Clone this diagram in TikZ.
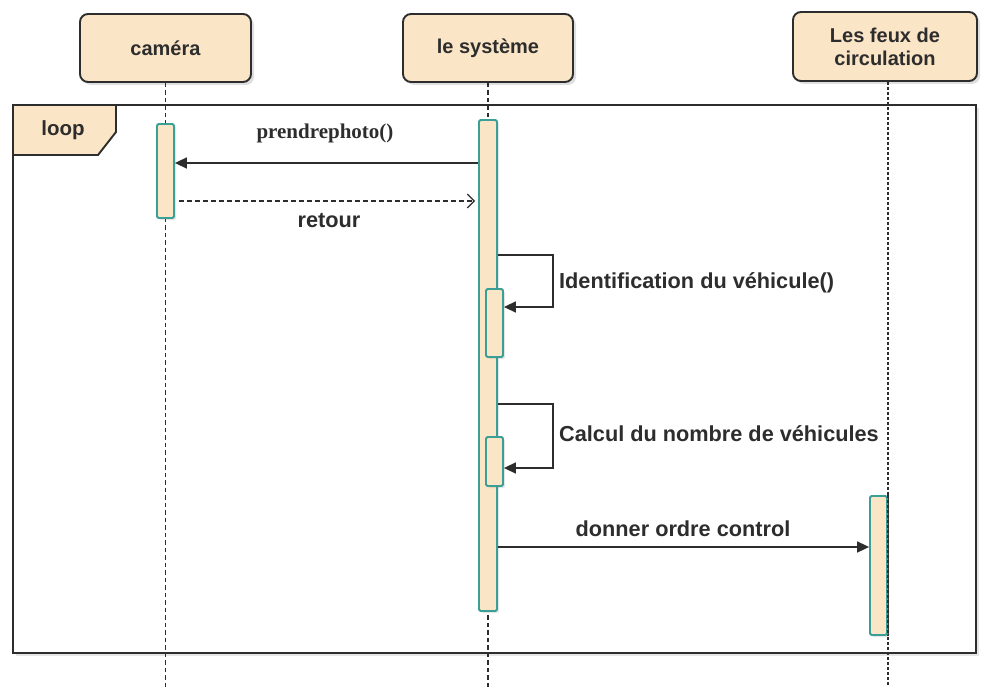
\documentclass[tikz,border=0pt]{standalone}
\usepackage{fontspec}
\setmainfont{Liberation Sans}
\newfontfamily\msgserif{Liberation Serif}
\usetikzlibrary{arrows.meta,shadows}
\definecolor{beige}{RGB}{251,229,199}
\definecolor{actteal}{RGB}{58,160,150}
\definecolor{ink}{RGB}{45,45,45}
\begin{document}
\begin{tikzpicture}[x=1pt,y=-1pt,
  font=\bfseries\fontsize{21.7}{25}\selectfont, text=ink,
  hdr/.style={draw=ink, line width=1.9pt, fill=beige, rounded corners=8pt,
    drop shadow={opacity=0.25,shadow xshift=3pt,shadow yshift=-3pt},
    font=\bfseries\fontsize{20}{23}\selectfont, align=center, inner sep=0pt},
  actbar/.style={draw=actteal, line width=1.8pt, fill=beige, rounded corners=1.5pt,
    inner sep=0pt, drop shadow={opacity=0.2,shadow xshift=2pt,shadow yshift=-2pt}},
  lifeline/.style={draw=ink, line width=1.6pt, dash pattern=on 4.5pt off 3pt},
  msg/.style={draw=ink, line width=1.6pt, -{Triangle[length=12pt,width=11pt]}},
  reply/.style={draw=ink, line width=1.2pt, dash pattern=on 5pt off 3pt,
    -{Straight Barb[length=7pt,width=14pt]}},
  lbl/.style={inner sep=0pt}]
\useasboundingbox (0,0) rectangle (982,687);

% loop combined fragment
\draw[draw=ink, line width=1.9pt, fill=white,
  drop shadow={opacity=0.2,shadow xshift=3pt,shadow yshift=-3pt}]
  (13,105) rectangle (976,653);
\draw[draw=ink, line width=1.9pt, fill=beige]
  (13,105) -- (116,105) -- (116,132) -- (98,155) -- (13,155) -- cycle;
\node[lbl, font=\bfseries\fontsize{20.5}{23}\selectfont] (loop) at (63,130) {loop};

% participants
\node[hdr, minimum width=171pt, minimum height=68pt] (cam) at (165.5,48) {caméra};
\node[hdr, minimum width=170pt, minimum height=68pt] (sys) at (488,48) {le système};
\node[hdr, minimum width=184pt, minimum height=69pt] (feux) at (885,46.5) {Les feux de\\circulation};

% lifelines
\coordinate (camend) at (cam.south |- 0,687);
\coordinate (sysend) at (sys.south |- 0,687);
\coordinate (feuxtop) at ([xshift=3pt]feux.south);
\coordinate (feuxend) at (feuxtop |- 0,687);
\draw[lifeline] (cam.south) -- (camend);
\draw[lifeline] (sys.south) -- (sysend);
\draw[lifeline, dash pattern=on 3pt off 2pt] (feuxtop) -- (feuxend);

% activation bars
\node[actbar, minimum width=17pt, minimum height=94pt] (acam) at (165.5,171) {};
\node[actbar, minimum width=18pt, minimum height=491pt] (asys) at (488,365.5) {};
\node[actbar, minimum width=17pt, minimum height=68pt] (aid1) at (494.5,323) {};
\node[actbar, minimum width=17pt, minimum height=49pt] (aid2) at (494.5,461.5) {};
\node[actbar, minimum width=17pt, minimum height=139pt] (afeux) at (878.5,565.5) {};
\draw[lifeline, dash pattern=on 3pt off 2pt] (afeux.north east) -- (afeux.south east);

% messages
\draw[msg] (asys.west |- 0,163) -- (acam.east |- 0,163);
\node[lbl, font=\msgserif\bfseries\fontsize{21}{24}\selectfont] (m1) at (325,133) {prendrephoto()};

\draw[reply] ([xshift=4pt]acam.east |- 0,201) -- ([xshift=-3pt]asys.west |- 0,201);
\node[lbl] (m2) at (329,221) {retour};

\draw[msg] (asys.east |- 0,255) -- (553,255) -- (553,307) -- (aid1.east |- 0,307);
\node[lbl, anchor=west] (m3) at (559,283) {Identification du véhicule()};

\draw[msg] (asys.east |- 0,404) -- (553,404) -- (553,468) -- (aid2.east |- 0,468);
\node[lbl, anchor=west] (m4) at (559,434) {Calcul du nombre de véhicules};

\draw[msg] (asys.east |- 0,547) -- (afeux.west |- 0,547);
\node[lbl] (m5) at (683,529) {donner ordre control};
\end{tikzpicture}
\end{document}
